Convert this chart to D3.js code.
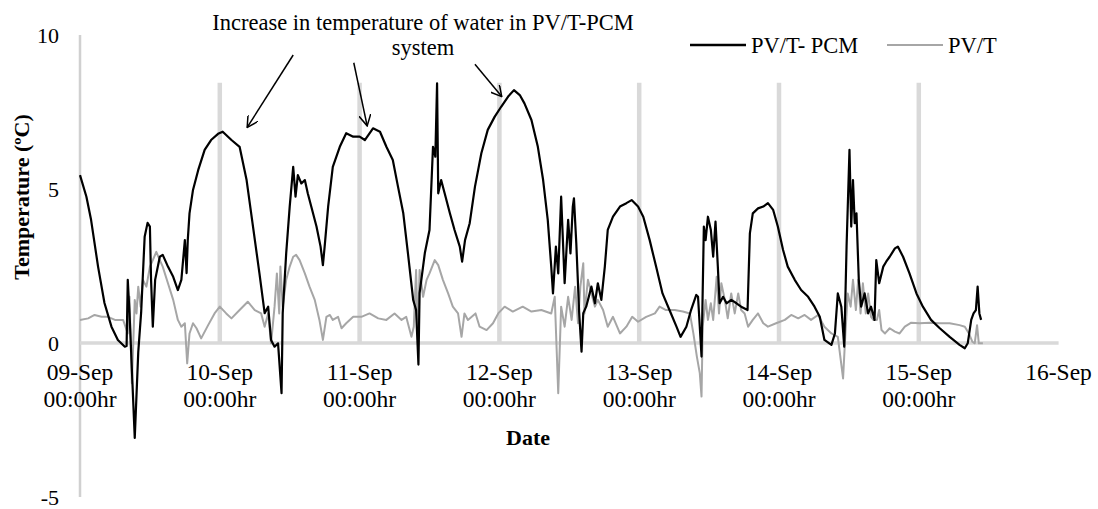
<!DOCTYPE html>
<html>
<head>
<meta charset="utf-8">
<script src="https://cdn.jsdelivr.net/npm/d3@7"></script>
<style>
  body { margin: 0; background: #fff; }
  svg { font-family: "Liberation Serif", "Times New Roman", serif; }
  .tick-label { font-size: 22px; fill: #000; }
  .x-label { font-size: 23.5px; fill: #000; }
  .note { font-size: 22.5px; fill: #000; }
  .axis-title { font-size: 22px; font-weight: bold; fill: #000; }
</style>
</head>
<body>
<svg id="chart" width="1098" height="509"></svg>
<script>
// hours since 09-Sep 00:00, temperature difference (ºC)
const pcmData = [
  [0,5.45],[1.1,4.75],[1.9,4.0],[3.1,2.48],[4.2,1.3],[5.4,0.53],[6.5,0.1],[7.7,-0.12],[8.0,-0.1],[8.2,2.05],[8.5,0.97],
  [9.4,-3.08],[10,-0.3],[10.5,1.0],[11.1,3.45],[11.6,3.9],[12,3.78],[12.2,2.05],[12.5,0.53],[12.9,2.05],[13.7,2.8],
  [14.2,2.86],[15.1,2.48],[16,2.15],[16.8,1.72],[17.4,2.05],[18,3.34],[18.3,2.27],[18.5,3.34],[18.8,4.21],[19.4,4.97],
  [20.3,5.62],[21.4,6.27],[22.5,6.59],[23.7,6.79],[24.5,6.86],[26,6.59],[27.4,6.37],[28.6,5.29],[29.7,3.78],[30.8,2.27],
  [31.7,0.97],[32.3,1.18],[32.8,0.1],[33.4,-0.12],[34,-0.01],[34.6,-1.63],[34.8,0.97],[35.4,2.92],[36,4.43],[36.6,5.72],
  [37,4.75],[37.4,5.45],[38,5.18],[38.6,5.29],[39.1,4.86],[39.7,4.43],[40.6,3.78],[41.3,3.13],[41.7,2.53],[42,3.13],
  [42.6,4.43],[43.4,5.72],[44.6,6.37],[45.7,6.81],[46.9,6.7],[48,6.7],[48.9,6.59],[50.3,6.97],[51.5,6.86],[52.6,6.37],
  [53.7,5.94],[54.6,5.07],[55.5,4.21],[56.3,2.91],[57.2,1.4],[57.7,1.07],[58.1,-0.7],[58.3,1.62],[59.2,2.92],[60,3.67],
  [60.6,6.37],[61,6.05],[61.3,8.43],[61.5,4.86],[62,5.29],[62.6,4.86],[63.5,4.21],[64.3,3.67],[65.2,3.13],[65.6,2.64],
  [66.1,3.34],[66.9,3.89],[67.8,5.07],[68.9,6.16],[70,6.92],[71.2,7.35],[72.3,7.67],[73.5,8.0],[74.5,8.21],[75.5,8.05],
  [76.3,7.78],[77.5,7.24],[78.6,6.37],[79.5,5.3],[80.3,4.0],[80.9,2.48],[81.2,1.61],[81.7,3.13],[82.1,2.26],[82.6,4.75],
  [83.2,1.94],[83.8,4.0],[84.2,2.91],[84.6,4.43],[84.8,4.7],[85.2,3.24],[85.7,0.97],[86.1,-0.28],[86.4,0.97],[86.9,1.18],
  [87.8,1.83],[88.4,1.29],[88.9,1.94],[89.5,1.4],[90.1,2.48],[90.6,3.67],[91.5,4.1],[92.7,4.43],[93.8,4.54],[94.7,4.64],
  [95.8,4.43],[96.7,4.1],[97.8,3.34],[98.9,2.48],[100,1.61],[101.2,1.07],[102.4,0.53],[103.1,0.2],[104.1,0.53],[104.9,1.07],
  [105.8,1.56],[106.1,1.5],[106.7,-0.44],[107.1,3.78],[107.4,3.34],[107.8,4.1],[108.3,3.67],[108.7,2.8],[109.1,3.94],
  [109.5,2.48],[109.8,1.29],[110.4,1.5],[111,1.29],[111.8,1.4],[112.7,1.29],[113.5,1.18],[114.6,1.07],[115,3.56],
  [115.5,4.21],[116.4,4.37],[117.3,4.43],[118.1,4.54],[119,4.32],[119.8,3.78],[120.7,3.02],[121.5,2.48],[122.7,2.05],
  [123.8,1.72],[125,1.5],[126.1,1.18],[127,0.85],[127.8,0.1],[129,-0.06],[129.6,0.31],[130.1,1.61],[130.7,1.18],
  [131.2,-0.12],[131.6,3.13],[132.1,6.27],[132.4,3.78],[132.7,5.29],[133,3.89],[133.3,4.21],[133.7,2.05],[134.1,1.18],
  [134.7,1.61],[135.3,0.96],[135.8,1.18],[136.4,0.75],[136.7,2.69],[137.2,1.94],[137.9,2.48],[138.4,2.64],[139,2.8],
  [139.9,3.07],[140.4,3.13],[141.3,2.8],[142.4,2.26],[143.6,1.61],[144.7,1.18],[146.1,0.75],[147.6,0.48],[149.3,0.2],
  [151,-0.06],[151.9,-0.17],[152.4,-0.01],[153,0.75],[153.4,0.96],[153.8,1.07],[154.1,1.83],[154.4,0.96],[154.7,0.75]
];

const pvtData = [
  [0,0.75],[1.4,0.8],[2.5,0.91],[3.7,0.85],[4.8,0.85],[6,0.75],[7.4,0.75],[8.2,0.31],[8.5,1.5],[8.9,-1.31],[9.4,1.4],
  [9.7,0.96],[10,1.83],[10.4,1.18],[10.8,2.05],[11.4,1.83],[12,2.48],[12.5,2.69],[13.1,2.96],[13.7,2.69],[14.2,2.48],
  [15.1,1.94],[16,1.4],[16.8,0.75],[17.4,0.53],[18,0.64],[18.4,-0.66],[18.8,0.31],[19.4,0.64],[20,0.48],[20.8,0.15],
  [22,0.58],[23.1,0.96],[24,1.18],[25.1,0.96],[26,0.8],[27.4,1.07],[28.8,1.34],[30,1.07],[31.1,0.96],[31.7,0.53],
  [32.3,0.96],[32.8,-0.01],[33.4,1.18],[33.8,2.26],[34.2,0.96],[34.4,2.48],[34.8,1.18],[35.4,2.05],[36,2.48],[36.6,2.8],
  [37.1,2.86],[37.7,2.69],[38.6,2.26],[39.4,1.83],[40.3,1.4],[41.1,0.75],[41.7,0.1],[42.3,0.85],[42.9,0.91],[43.4,0.75],
  [44.3,0.85],[44.9,0.48],[45.7,0.64],[46.9,0.85],[48.3,0.85],[49.7,0.96],[51.2,0.8],[52.6,0.75],[54,0.96],[55.2,0.75],
  [56,0.85],[56.9,0.2],[57.3,0.53],[57.7,2.37],[58,0.1],[58.3,2.37],[58.9,1.5],[59.5,2.05],[60,2.26],[60.9,2.69],
  [61.5,2.53],[62.3,2.05],[63.2,1.61],[64,1.18],[64.9,0.96],[65.5,0.2],[66,0.96],[66.6,0.75],[67.9,0.96],[68.6,0.53],
  [69.8,0.42],[70.9,0.64],[71.8,0.96],[72.9,1.18],[74.3,1.02],[76,1.18],[77.5,1.02],[79.2,1.07],[80.9,0.96],[81.5,1.5],
  [82.1,-1.63],[82.6,1.18],[83.2,0.53],[83.8,1.5],[84.4,0.75],[85,1.83],[85.5,0.64],[85.9,1.83],[86.4,2.59],[86.6,0.96],
  [87.2,2.05],[87.8,1.61],[88.4,1.18],[88.9,1.4],[89.8,1.07],[90.6,0.53],[91.5,0.85],[92.7,0.31],[93.8,0.53],[94.8,0.85],
  [95.8,0.69],[97.2,0.85],[98.7,0.96],[99.5,1.18],[100.6,1.07],[102.1,1.07],[103.5,1.02],[104.7,0.96],[105.3,0.31],
  [105.9,-0.44],[106.4,-0.98],[106.7,-1.74],[106.9,0.53],[107.4,1.4],[107.8,0.75],[108.3,1.29],[108.7,0.75],[109.3,2.15],
  [109.7,0.96],[110.1,1.94],[110.7,1.4],[111.2,0.8],[111.8,1.61],[112.4,0.96],[113,1.61],[113.5,1.07],[114.1,0.96],
  [114.7,0.53],[115.5,0.75],[116.4,0.96],[117.3,0.64],[118.1,0.53],[119.5,0.64],[121,0.75],[122.1,0.91],[123.3,0.8],
  [124.4,0.91],[125.5,0.75],[126.7,0.91],[127.8,0.53],[129,0.31],[130.1,0.2],[131,-1.15],[131.4,0.31],[131.8,1.61],
  [132.3,1.18],[132.7,2.05],[133.2,1.07],[133.6,2.05],[134,0.96],[134.4,1.94],[134.9,0.96],[135.3,1.61],[135.8,0.85],
  [136.2,0.75],[136.8,0.75],[137.2,1.07],[137.6,0.42],[138.2,0.31],[139,0.48],[139.9,0.37],[140.7,0.31],[141.6,0.53],
  [142.7,0.66],[144.1,0.64],[145.9,0.66],[147.6,0.64],[149.3,0.64],[151,0.58],[151.9,0.53],[152.6,0.31],[153.2,0.04],
  [153.6,-0.01],[154,0.58],[154.3,-0.01],[155,-0.01]
];

const dayTicks = [0, 24, 48, 72, 96, 120, 144, 168];
const dayLabels = ['09-Sep', '10-Sep', '11-Sep', '12-Sep', '13-Sep', '14-Sep', '15-Sep', '16-Sep'];
const timeLabels = ['00:00hr', '00:00hr', '00:00hr', '00:00hr', '00:00hr', '00:00hr', '00:00hr', ''];
const yTicks = [-5, 0, 5, 10];
const dayMarkerTop = 8.45; // height of the midnight marker bars
const seriesNames = ['PV/T- PCM', 'PV/T'];
const seriesColors = ['#000000', '#a6a6a6'];
// arrows: [tail hour, tail temp, head hour, head temp]
const arrows = [
  [36.6, 9.35, 28.7, 7.0],
  [47.0, 9.1, 49.3, 7.05],
  [67.8, 9.05, 72.4, 8.0]
];

const svg = d3.select('#chart');

const x = d3.scaleLinear().domain([0, 168]).range([80, 1058.6]);
const y = d3.scaleLinear().domain([-5, 10]).range([497, 35]);

// midnight marker bars
svg.append('g')
  .selectAll('line')
  .data(dayTicks.slice(1, 7))
  .enter()
  .append('line')
  .attr('x1', d => x(d))
  .attr('x2', d => x(d))
  .attr('y1', y(0))
  .attr('y2', y(dayMarkerTop))
  .style('stroke', '#d9d9d9')
  .style('stroke-width', 4.5);

// vertical axis line
svg.append('line')
  .attr('x1', x(0)).attr('x2', x(0))
  .attr('y1', y(10)).attr('y2', y(-5))
  .style('stroke', '#d0d0d0')
  .style('stroke-width', 2.5);

// horizontal axis at zero
svg.append('line')
  .attr('x1', x(0)).attr('x2', x(168))
  .attr('y1', y(0)).attr('y2', y(0))
  .style('stroke', '#d9d9d9')
  .style('stroke-width', 3.5);

// y tick labels
svg.append('g')
  .selectAll('text')
  .data(yTicks)
  .enter()
  .append('text')
  .attr('class', 'tick-label')
  .attr('x', 59)
  .attr('y', d => y(d))
  .attr('dy', '0.35em')
  .style('text-anchor', 'end')
  .text(d => d);

// x tick labels (two lines)
const xLabels = svg.append('g')
  .selectAll('text')
  .data(dayTicks)
  .enter()
  .append('text')
  .attr('class', 'x-label')
  .style('text-anchor', 'middle');
xLabels.append('tspan')
  .attr('x', d => x(d))
  .attr('y', 380)
  .text((d, i) => dayLabels[i]);
xLabels.append('tspan')
  .attr('x', d => x(d))
  .attr('y', 407)
  .text((d, i) => timeLabels[i]);

// series lines
const line = d3.line()
  .x(d => x(d[0]))
  .y(d => y(d[1]));

svg.append('path')
  .datum(pvtData)
  .attr('d', line)
  .style('fill', 'none')
  .style('stroke', seriesColors[1])
  .style('stroke-width', 2)
  .style('stroke-linejoin', 'round');

svg.append('path')
  .datum(pcmData)
  .attr('d', line)
  .style('fill', 'none')
  .style('stroke', seriesColors[0])
  .style('stroke-width', 2.2)
  .style('stroke-linejoin', 'round');

// axis titles
svg.append('text')
  .attr('class', 'axis-title')
  .attr('transform', 'translate(29, 197) rotate(-90)')
  .style('text-anchor', 'middle')
  .text('Temperature (ºC)');

svg.append('text')
  .attr('class', 'axis-title')
  .attr('x', 528)
  .attr('y', 445)
  .style('text-anchor', 'middle')
  .text('Date');

// legend
const legend = svg.append('g').attr('class', 'legend');
const legendX = [690, 887];
seriesNames.forEach((name, i) => {
  legend.append('line')
    .attr('x1', legendX[i]).attr('x2', legendX[i] + 56)
    .attr('y1', 45).attr('y2', 45)
    .style('stroke', seriesColors[i])
    .style('stroke-width', i === 0 ? 2.5 : 2);
  legend.append('text')
    .attr('class', 'note')
    .attr('x', legendX[i] + 61)
    .attr('y', 53)
    .text(name);
});

// annotation
svg.append('defs').append('marker')
  .attr('id', 'openArrow')
  .attr('viewBox', '0 0 12 12')
  .attr('refX', 11)
  .attr('refY', 6)
  .attr('markerWidth', 12)
  .attr('markerHeight', 12)
  .attr('markerUnits', 'userSpaceOnUse')
  .attr('orient', 'auto')
  .append('path')
  .attr('d', 'M0,0 L11,6 L0,12')
  .style('fill', 'none')
  .style('stroke', '#000')
  .style('stroke-width', 1.5);

svg.append('g')
  .selectAll('line')
  .data(arrows)
  .enter()
  .append('line')
  .attr('x1', d => x(d[0]))
  .attr('y1', d => y(d[1]))
  .attr('x2', d => x(d[2]))
  .attr('y2', d => y(d[3]))
  .style('stroke', '#000')
  .style('stroke-width', 1.5)
  .attr('marker-end', 'url(#openArrow)');

const note = svg.append('text')
  .attr('class', 'note')
  .style('text-anchor', 'middle');
note.append('tspan').attr('x', 423).attr('y', 30)
  .text('Increase in temperature of water in PV/T-PCM');
note.append('tspan').attr('x', 423).attr('y', 55)
  .text('system');
</script>
</body>
</html>
